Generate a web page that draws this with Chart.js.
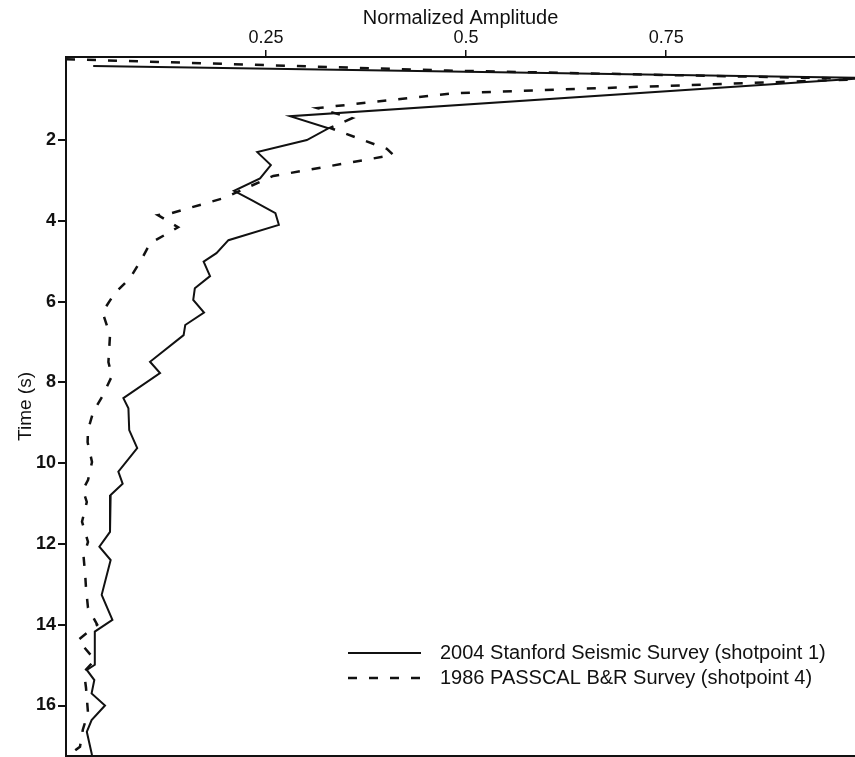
<!DOCTYPE html>
<html>
<head>
<meta charset="utf-8">
<title>Normalized Amplitude vs Time</title>
<script src="https://cdn.jsdelivr.net/npm/chart.js@4.4.1/dist/chart.umd.min.js"></script>
<style>
  html, body { margin: 0; padding: 0; background: #fff; overflow: hidden; }
  canvas { display: block; }
</style>
</head>
<body>
<canvas id="ampChart" width="855" height="757"></canvas>
<script>
// 2004 Stanford Seismic Survey, shotpoint 1 (time in s, normalized amplitude)
const stanfordTime = [0.17, 0.465, 1.41, 1.71, 2.0, 2.30, 2.62, 2.95, 3.26, 3.49, 3.81, 4.10,
  4.48, 4.80, 5.01, 5.37, 5.67, 5.96, 6.27, 6.58, 6.83, 7.49, 7.77, 8.39, 8.64, 9.18, 9.63,
  10.21, 10.51, 10.79, 11.70, 12.07, 12.40, 13.26, 13.88, 14.17, 14.99, 15.12, 15.37, 15.70,
  16.0, 16.36, 16.65, 17.18, 17.3];
const stanfordAmp = [0.034, 1.0, 0.28, 0.328, 0.301, 0.239, 0.256, 0.2425, 0.21, 0.232, 0.2617, 0.266,
  0.203, 0.188, 0.172, 0.18, 0.161, 0.159, 0.1725, 0.149, 0.147, 0.105, 0.1175, 0.0717, 0.078, 0.079, 0.089,
  0.0654, 0.0708, 0.0558, 0.055, 0.0417, 0.0558, 0.0446, 0.058, 0.036, 0.036, 0.026, 0.0354, 0.032,
  0.04875, 0.032, 0.026, 0.032, 0.033];

// 1986 PASSCAL B&R Survey, shotpoint 4
const passcalTime = [0.0, 0.28, 0.49, 0.84, 1.21, 1.46, 1.70, 2.22, 2.37, 2.89, 3.44, 3.81, 3.86,
  4.16, 4.56, 4.97, 5.42, 5.79, 6.26, 6.83, 7.50, 7.84, 8.36, 8.73, 9.18, 9.48, 9.97, 10.42,
  10.66, 10.96, 11.45, 11.95, 12.30, 12.77, 13.09, 13.58, 14.0, 14.38, 14.87, 15.17, 15.56,
  16.18, 16.60, 17.02, 17.27];
const passcalAmp = [0.0, 0.476, 1.0, 0.486, 0.314, 0.3575, 0.33, 0.401, 0.409, 0.259, 0.1967, 0.132, 0.115,
  0.14, 0.105, 0.094, 0.08, 0.061, 0.0456, 0.055, 0.053, 0.0575, 0.045, 0.034, 0.0275, 0.027, 0.0325, 0.0275,
  0.021, 0.026, 0.02, 0.0275, 0.0219, 0.024, 0.025, 0.0275, 0.039, 0.015, 0.036, 0.0225, 0.025,
  0.0275, 0.021, 0.0175, 0.001];

const seriesLabels = ['2004 Stanford Seismic Survey (shotpoint 1)', '1986 PASSCAL B&R Survey (shotpoint 4)'];
const ampTicks = [0.25, 0.5, 0.75];
const timeTicks = [2, 4, 6, 8, 10, 12, 14, 16];

const FONT = '"Liberation Sans", Arial, Helvetica, sans-serif';
const INK = '#111';

function toPoints(times, amps) {
  return times.map((t, i) => ({ x: amps[i], y: t }));
}

// legend in the lower right of the plot + closing bottom frame line
const legendAndFrame = {
  id: 'legendAndFrame',
  afterDraw(chart) {
    const { ctx, chartArea } = chart;
    ctx.save();
    ctx.strokeStyle = INK;
    ctx.lineWidth = 2;
    ctx.beginPath();
    ctx.moveTo(chartArea.left, chartArea.bottom);
    ctx.lineTo(chartArea.right, chartArea.bottom);
    ctx.stroke();

    const x0 = 348, x1 = 421, textX = 440;
    const rows = [653, 678];
    chart.data.datasets.forEach((ds, i) => {
      const y = rows[i];
      ctx.setLineDash(ds.borderDash || []);
      ctx.lineWidth = ds.borderWidth;
      ctx.strokeStyle = ds.borderColor;
      ctx.beginPath();
      ctx.moveTo(x0, y);
      ctx.lineTo(x1, y);
      ctx.stroke();
      ctx.setLineDash([]);
      ctx.fillStyle = INK;
      ctx.font = '20px ' + FONT;
      ctx.textBaseline = 'middle';
      ctx.fillText(ds.label, textX, y);
    });
    ctx.restore();
  }
};

const ctx = document.getElementById('ampChart').getContext('2d');
new Chart(ctx, {
  type: 'scatter',
  data: {
    datasets: [
      {
        label: seriesLabels[0],
        data: toPoints(stanfordTime, stanfordAmp),
        showLine: true,
        borderColor: INK,
        borderWidth: 2,
        pointRadius: 0,
        tension: 0
      },
      {
        label: seriesLabels[1],
        data: toPoints(passcalTime, passcalAmp),
        showLine: true,
        borderColor: INK,
        borderWidth: 2.5,
        borderDash: [9, 12],
        pointRadius: 0,
        tension: 0
      }
    ]
  },
  options: {
    responsive: false,
    animation: false,
    layout: { padding: { left: 0, right: 0, top: 0, bottom: 1 } },
    plugins: {
      legend: { display: false },
      tooltip: { enabled: false }
    },
    scales: {
      x: {
        type: 'linear',
        position: 'top',
        min: 0,
        max: 0.986,
        afterBuildTicks: (s) => { s.ticks = ampTicks.map(v => ({ value: v })); },
        afterFit: (s) => { s.height = 57; s.paddingLeft = 0; s.paddingRight = 0; },
        border: { display: true, color: INK, width: 2 },
        grid: { drawOnChartArea: false, drawTicks: true, tickLength: 7, color: INK, lineWidth: 1.5 },
        ticks: {
          color: INK,
          padding: 1,
          font: { family: FONT, size: 18 },
          callback: (v) => String(v)
        },
        title: {
          display: true,
          text: 'Normalized Amplitude',
          color: INK,
          font: { family: FONT, size: 20 },
          padding: { top: 6, bottom: 0 }
        }
      },
      y: {
        type: 'linear',
        position: 'left',
        reverse: true,
        min: -0.055,
        max: 17.25,
        afterBuildTicks: (s) => { s.ticks = timeTicks.map(v => ({ value: v })); },
        afterFit: (s) => { s.width = 66; s.paddingTop = 0; s.paddingBottom = 0; },
        border: { display: true, color: INK, width: 2 },
        grid: { drawOnChartArea: false, drawTicks: true, tickLength: 8, color: INK, lineWidth: 2 },
        ticks: {
          color: INK,
          padding: 2,
          font: { family: FONT, size: 18, weight: 'bold' }
        },
        title: {
          display: true,
          text: 'Time (s)',
          color: INK,
          font: { family: FONT, size: 19 },
          padding: { top: 14, bottom: 0 }
        }
      }
    }
  },
  plugins: [legendAndFrame]
});
</script>
</body>
</html>
